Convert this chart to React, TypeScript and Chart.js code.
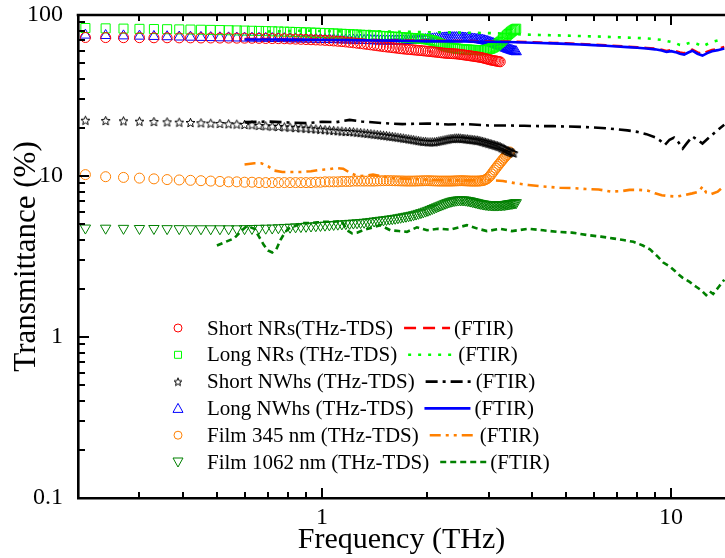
import React, { useEffect, useRef } from 'react';
import { Chart, registerables } from 'chart.js';

Chart.register(...registerables);

// ---------- THz-TDS data (shared frequency grid, THz) ----------
const tdsFreq = [
  0.21, 0.24, 0.27, 0.30, 0.33, 0.36, 0.39, 0.42, 0.45, 0.48,
  0.51, 0.54, 0.57, 0.60, 0.63, 0.66, 0.69, 0.72, 0.75, 0.78,
  0.81, 0.84, 0.87, 0.90, 0.93, 0.96, 0.99, 1.02, 1.05, 1.08,
  1.11, 1.14, 1.17, 1.20, 1.23, 1.26, 1.29, 1.32, 1.35, 1.38,
  1.41, 1.44, 1.47, 1.50, 1.53, 1.56, 1.59, 1.62, 1.65, 1.68,
  1.71, 1.74, 1.77, 1.80, 1.83, 1.86, 1.89, 1.92, 1.95, 1.98,
  2.01, 2.04, 2.07, 2.10, 2.13, 2.16, 2.19, 2.22, 2.25, 2.28,
  2.31, 2.34, 2.37, 2.40, 2.43, 2.46, 2.49, 2.52, 2.55, 2.58,
  2.61, 2.64, 2.67, 2.70, 2.73, 2.76, 2.79, 2.82, 2.85, 2.88,
  2.91, 2.94, 2.97, 3.00, 3.03, 3.06, 3.09, 3.12, 3.15, 3.18,
  3.21, 3.24, 3.27, 3.30, 3.33, 3.36, 3.39, 3.42, 3.45, 3.48,
  3.51, 3.54, 3.57, 3.60,
];

const shortNRsTDS = [
  72.5, 72.4, 72.3, 72.3, 72.2, 72.2, 72.1, 72.1, 72.0, 72.0,
  71.9, 71.9, 71.8, 71.8, 71.7, 71.6, 71.5, 71.4, 71.3, 71.2,
  71.0, 70.8, 70.6, 70.4, 70.2, 70.0, 69.8, 69.6, 69.3, 69.0,
  68.7, 68.4, 68.0, 67.6, 67.2, 66.8, 66.4, 66.0, 65.6, 65.2,
  64.8, 64.4, 64.0, 63.6, 63.3, 63.0, 62.7, 62.4, 62.1, 61.8,
  61.5, 61.3, 61.1, 60.9, 60.7, 60.5, 60.3, 60.1, 59.9, 59.7,
  59.5, 59.3, 59.1, 58.9, 58.7, 58.5, 58.3, 58.1, 57.9, 57.8,
  57.7, 57.6, 57.5, 57.4, 57.3, 57.1, 56.9, 56.7, 56.5, 56.3,
  56.1, 55.9, 55.7, 55.5, 55.3, 55.1, 54.9, 54.7, 54.5, 54.2,
  53.9, 53.6, 53.3, 53.0, 52.7, 52.4, 52.2, 52.0, 51.8, 51.6,
  51.4, 51.2,
];

const longNRsTDS = [
  83.0, 82.6, 82.3, 82.0, 81.8, 81.6, 81.4, 81.2, 81.0, 80.8,
  80.6, 80.4, 80.2, 80.0, 79.8, 79.6, 79.4, 79.2, 79.0, 78.8,
  78.6, 78.4, 78.2, 78.0, 77.8, 77.6, 77.4, 77.2, 77.0, 76.8,
  76.6, 76.4, 76.2, 76.0, 75.8, 75.6, 75.4, 75.2, 75.0, 74.8,
  74.6, 74.4, 74.2, 74.0, 73.8, 73.6, 73.4, 73.2, 73.0, 72.8,
  72.6, 72.4, 72.2, 72.0, 71.8, 71.6, 71.4, 71.2, 71.0, 70.7,
  70.4, 70.0, 69.4, 68.6, 67.7, 66.8, 65.9, 65.0, 64.2, 63.6,
  63.1, 62.7, 62.4, 62.1, 61.9, 61.7, 61.5, 61.3, 61.2, 61.1,
  61.0, 60.9, 60.8, 60.7, 60.6, 60.6, 60.5, 60.5, 60.5, 60.5,
  60.6, 60.7, 60.9, 61.2, 61.6, 62.1, 62.7, 63.5, 64.5, 65.6,
  66.8, 68.0, 69.3, 70.6, 72.0, 73.4, 74.8, 76.2, 77.5, 78.7,
  79.8, 80.8, 81.6, 82.2,
];

const shortNWhsTDS = [
  22.2, 22.1, 22.0, 21.9, 21.8, 21.7, 21.6, 21.5, 21.4, 21.3,
  21.2, 21.1, 21.0, 20.9, 20.8, 20.6, 20.5, 20.4, 20.3, 20.2,
  20.1, 20.0, 19.9, 19.8, 19.7, 19.6, 19.5, 19.4, 19.3, 19.2,
  19.1, 19.0, 18.9, 18.9, 18.8, 18.7, 18.6, 18.5, 18.4, 18.3,
  18.2, 18.1, 18.0, 17.9, 17.8, 17.7, 17.6, 17.5, 17.4, 17.3,
  17.2, 17.1, 17.0, 16.9, 16.8, 16.7, 16.6, 16.5, 16.4, 16.4,
  16.3, 16.3, 16.3, 16.3, 16.4, 16.5, 16.6, 16.7, 16.8, 16.9,
  17.0, 17.1, 17.1, 17.2, 17.2, 17.2, 17.2, 17.1, 17.1, 17.0,
  17.0, 16.9, 16.9, 16.8, 16.8, 16.7, 16.7, 16.6, 16.5, 16.4,
  16.3, 16.2, 16.1, 16.0, 15.9, 15.8, 15.7, 15.6, 15.5, 15.4,
  15.3, 15.2, 15.0, 14.9, 14.7, 14.6, 14.4, 14.3, 14.2, 14.1,
  14.0, 13.9,
];

const longNWhsTDS = [
  75.0, 74.6, 74.2, 73.9, 73.6, 73.3, 73.0, 72.8, 72.6, 72.4,
  72.2, 72.1, 72.0, 71.9, 71.8, 71.7, 71.6, 71.5, 71.4, 71.3,
  71.2, 71.1, 71.0, 70.9, 70.8, 70.7, 70.6, 70.5, 70.4, 70.3,
  70.2, 70.1, 70.0, 69.9, 69.8, 69.7, 69.6, 69.5, 69.4, 69.3,
  69.2, 69.1, 69.0, 69.0, 68.9, 68.9, 68.9, 68.9, 69.0, 69.0,
  69.1, 69.2, 69.3, 69.4, 69.5, 69.6, 69.8, 70.0, 70.2, 70.4,
  70.6, 70.8, 71.0, 71.2, 71.4, 71.6, 71.8, 72.0, 72.1, 72.2,
  72.3, 72.4, 72.4, 72.4, 72.4, 72.3, 72.2, 72.1, 72.0, 71.8,
  71.6, 71.4, 71.2, 71.0, 70.8, 70.6, 70.4, 70.2, 70.0, 69.7,
  69.4, 69.0, 68.6, 68.1, 67.6, 67.1, 66.6, 66.1, 65.6, 65.1,
  64.6, 64.1, 63.6, 63.1, 62.6, 62.1, 61.6, 61.2, 60.8, 60.4,
  60.0, 59.7, 59.4, 59.1,
];

const film345TDS = [
  10.2, 9.9, 9.8, 9.7, 9.6, 9.5, 9.45, 9.4, 9.35, 9.3,
  9.25, 9.2, 9.2, 9.15, 9.15, 9.1, 9.1, 9.1, 9.1, 9.1,
  9.1, 9.1, 9.1, 9.1, 9.1, 9.15, 9.15, 9.2, 9.2, 9.2,
  9.2, 9.25, 9.25, 9.25, 9.3, 9.3, 9.3, 9.3, 9.3, 9.3,
  9.3, 9.32, 9.34, 9.35, 9.36, 9.36, 9.35, 9.34, 9.33, 9.32,
  9.31, 9.3, 9.3, 9.3, 9.3, 9.31, 9.32, 9.33, 9.34, 9.35,
  9.35, 9.34, 9.33, 9.32, 9.31, 9.3, 9.3, 9.3, 9.3, 9.3,
  9.3, 9.3, 9.31, 9.32, 9.33, 9.34, 9.35, 9.35, 9.34, 9.33,
  9.32, 9.31, 9.3, 9.3, 9.3, 9.3, 9.3, 9.31, 9.33, 9.36,
  9.4, 9.5, 9.6, 9.8, 10.0, 10.3, 10.6, 10.9, 11.2, 11.5,
  11.8, 12.1, 12.4, 12.7, 13.0, 13.3, 13.6, 13.9, 14.1,
];

const film1062TDS = [
  4.75, 4.74, 4.73, 4.72, 4.72, 4.71, 4.71, 4.70, 4.70, 4.70,
  4.70, 4.70, 4.70, 4.71, 4.72, 4.73, 4.74, 4.75, 4.77, 4.79,
  4.81, 4.83, 4.85, 4.87, 4.89, 4.91, 4.93, 4.95, 4.97, 5.00,
  5.02, 5.04, 5.06, 5.08, 5.10, 5.12, 5.14, 5.16, 5.19, 5.22,
  5.25, 5.28, 5.31, 5.34, 5.37, 5.40, 5.43, 5.46, 5.50, 5.54,
  5.58, 5.62, 5.66, 5.70, 5.75, 5.80, 5.86, 5.92, 5.98, 6.05,
  6.12, 6.20, 6.28, 6.36, 6.44, 6.52, 6.60, 6.68, 6.76, 6.83,
  6.90, 6.96, 7.01, 7.05, 7.08, 7.10, 7.11, 7.11, 7.10, 7.08,
  7.05, 7.02, 6.98, 6.94, 6.90, 6.86, 6.82, 6.78, 6.75, 6.72,
  6.69, 6.67, 6.65, 6.63, 6.62, 6.61, 6.60, 6.60, 6.60, 6.60,
  6.61, 6.62, 6.63, 6.64, 6.65, 6.67, 6.69, 6.71, 6.73, 6.75,
  6.77, 6.79, 6.81, 6.83,
];

// ---------- FTIR data ----------
const ftirNWFreq = [
  0.6, 0.7, 0.8, 0.9, 1.0, 1.2, 1.4, 1.6, 1.8, 2.0,
  2.3, 2.6, 3.0, 3.4, 3.8, 4.2, 4.6, 5.0, 5.5, 6.0,
  6.5, 7.0, 7.5, 8.0, 8.5, 9.0, 9.4, 9.7, 10.0, 10.3,
  10.6, 10.9, 11.2, 11.5, 11.9, 12.3, 12.7, 13.1, 13.6, 14.2,
];
const shortNRsFTIR = [
  71.0, 70.8, 70.6, 70.4, 70.2, 70.0, 69.8, 69.6, 69.4, 69.2,
  69.0, 68.8, 68.6, 68.3, 67.9, 67.4, 67.0, 66.6, 66.0, 65.4,
  64.8, 64.2, 63.6, 63.0, 62.4, 61.8, 60.9, 59.8, 60.4, 59.6,
  58.4, 57.8, 59.4, 60.9, 58.6, 57.2, 59.2, 60.6, 61.6, 63.2,
];
const longNWhsFTIR = [
  70.5, 70.5, 70.3, 70.2, 70.0, 69.8, 69.5, 69.3, 69.0, 68.8,
  68.6, 68.4, 68.2, 67.9, 67.5, 67.0, 66.6, 66.2, 65.6, 65.0,
  64.4, 63.8, 63.2, 62.6, 62.0, 61.2, 60.2, 59.0, 59.6, 58.8,
  57.5, 56.8, 58.5, 60.0, 57.5, 56.0, 58.0, 59.5, 60.5, 62.0,
];

const longNRsFTIRFreq = [
  0.7, 0.8, 0.9, 1.0, 1.2, 1.4, 1.6, 1.8, 2.0, 2.3,
  2.6, 3.0, 3.4, 3.8, 4.2, 4.6, 5.0, 5.5, 6.0, 6.5,
  7.0, 7.5, 8.0, 8.5, 9.0, 9.4, 9.7, 10.0, 10.3, 10.6,
  10.9, 11.2, 11.5, 11.9, 12.3, 12.7, 13.1, 13.6, 14.2,
];
const longNRsFTIR = [
  79.0, 79.5, 80.0, 79.5, 79.0, 79.5, 78.8, 78.5, 78.2, 78.0,
  77.6, 77.2, 76.5, 75.6, 75.2, 74.8, 74.5, 74.0, 73.6, 73.2,
  72.8, 72.4, 72.0, 71.5, 70.8, 70.0, 69.0, 68.0, 66.8, 65.2,
  65.0, 66.8, 67.5, 66.0, 63.8, 66.0, 68.0, 69.5, 70.8,
];

const shortNWhsFTIRFreq = [
  0.6, 0.7, 0.8, 0.9, 1.0, 1.1, 1.2, 1.3, 1.5, 1.7,
  2.0, 2.3, 2.6, 3.0, 3.4, 3.8, 4.2, 4.6, 5.0, 5.5,
  6.0, 6.5, 7.0, 7.5, 8.0, 8.5, 9.0, 9.3, 9.6, 9.9,
  10.2, 10.5, 10.8, 11.1, 11.5, 11.9, 12.3, 12.8, 13.3, 13.8,
  14.2,
];
const shortNWhsFTIR = [
  21.6, 21.8, 21.5, 21.3, 21.7, 21.6, 22.3, 21.8, 21.3, 21.0,
  21.2, 20.9, 21.0, 20.6, 20.6, 20.5, 20.4, 20.4, 20.3, 20.2,
  20.0, 19.8, 19.5, 19.2, 18.8, 18.2, 17.4, 16.6, 15.6, 16.8,
  17.3, 16.2, 14.8, 16.0, 17.6, 16.8, 15.9, 17.2, 18.5, 19.8,
  20.8,
];

const film345FTIRFreq = [
  0.60, 0.64, 0.67, 0.70, 0.73, 0.77, 0.82, 0.87, 0.93, 0.98,
  1.04, 1.10, 1.15, 1.20, 1.25, 1.30, 1.40, 1.50, 1.60, 1.80,
  2.0, 2.3, 2.6, 3.0, 3.3, 3.6, 3.9, 4.3, 4.8, 5.3,
  5.7, 6.2, 6.7, 7.2, 7.6, 8.1, 8.6, 9.0, 9.4, 9.9,
  10.4, 10.9, 11.5, 12.0, 12.3, 12.6, 13.0, 13.6, 14.2,
];
const film345FTIR = [
  11.8, 12.0, 12.0, 11.5, 10.8, 10.6, 10.6, 10.6, 10.7, 10.9,
  11.0, 11.2, 11.1, 10.5, 10.1, 10.0, 10.2, 9.9, 9.7, 9.6,
  9.5, 9.4, 9.4, 9.45, 9.3, 9.0, 8.8, 8.6, 8.45, 8.4,
  8.3, 8.25, 8.0, 8.05, 8.2, 8.2, 8.1, 7.8, 7.6, 7.5,
  7.45, 7.6, 7.8, 8.0, 8.6, 7.9, 7.7, 8.0, 8.7,
];

const film1062FTIRFreq = [
  0.50, 0.53, 0.56, 0.59, 0.61, 0.64, 0.66, 0.68, 0.70, 0.72,
  0.74, 0.76, 0.78, 0.80, 0.84, 0.87, 0.92, 0.97, 1.02, 1.08,
  1.14, 1.18, 1.22, 1.26, 1.31, 1.40, 1.47, 1.57, 1.66, 1.75,
  1.87, 2.0, 2.15, 2.33, 2.6, 2.8, 2.97, 3.24, 3.5, 3.9,
  4.3, 4.7, 5.2, 5.75, 6.3, 6.8, 7.3, 7.8, 8.3, 8.7,
  9.1, 9.5, 9.9, 10.2, 10.5, 10.8, 11.3, 11.8, 12.2, 12.6,
  12.9, 13.2, 13.7, 14.2,
];
const film1062FTIR = [
  3.7, 3.9, 4.1, 4.6, 4.9, 4.7, 4.2, 3.75, 3.45, 3.35,
  3.5, 4.0, 4.4, 4.7, 4.9, 5.1, 5.1, 5.15, 5.2, 5.2,
  5.25, 4.6, 4.4, 4.45, 4.6, 4.8, 4.95, 4.6, 4.55, 4.5,
  4.8, 4.6, 4.7, 4.65, 4.95, 4.7, 4.55, 4.7, 4.55, 4.7,
  4.6, 4.5, 4.45, 4.3, 4.2, 4.1, 4.0, 3.9, 3.7, 3.5,
  3.2, 2.9, 2.75, 2.6, 2.45, 2.33, 2.2, 2.05, 1.95, 1.82,
  1.92, 1.85, 2.05, 2.27,
];

const xMin = 0.2;
const xMax = 14.27;
const yMin = 0.1;
const yMax = 100;

const legendLabels = [
  'Short NRs(THz-TDS)',
  'Long NRs (THz-TDS)',
  'Short NWhs (THz-TDS)',
  'Long NWhs (THz-TDS)',
  'Film 345 nm (THz-TDS)',
  'Film 1062 nm (THz-TDS)',
];

const RED = '#ff0000';
const LIME = '#00ff00';
const BLACK = '#000000';
const BLUE = '#0000ff';
const ORANGE = '#ff8000';
const DGREEN = '#008000';
const SERIF = '"Liberation Serif", "Times New Roman", serif';

function pairs(xs: number[], ys: number[]) {
  return ys.map((y, i) => ({ x: xs[i], y }));
}

function makeStar(size: number, color: string) {
  const c = document.createElement('canvas');
  c.width = size;
  c.height = size;
  const g = c.getContext('2d')!;
  const cx = size / 2;
  const cy = size / 2 + 0.5;
  const R = size / 2 - 0.8;
  const r = R * 0.45;
  g.beginPath();
  for (let k = 0; k < 10; k++) {
    const ang = -Math.PI / 2 + (k * Math.PI) / 5;
    const rad = k % 2 === 0 ? R : r;
    const px = cx + rad * Math.cos(ang);
    const py = cy + rad * Math.sin(ang);
    if (k === 0) g.moveTo(px, py);
    else g.lineTo(px, py);
  }
  g.closePath();
  g.strokeStyle = color;
  g.lineWidth = 1;
  g.stroke();
  return c;
}

function niceMantissa(v: number) {
  const e = Math.floor(Math.log10(v) + 1e-9);
  const m = v / Math.pow(10, e);
  const rm = Math.round(m);
  return Math.abs(m - rm) < 1e-6 ? rm : 0;
}

function drawMarker(ctx: CanvasRenderingContext2D, kind: string, color: string, x: number, y: number, star: HTMLCanvasElement) {
  ctx.save();
  ctx.strokeStyle = color;
  ctx.lineWidth = 1;
  ctx.beginPath();
  if (kind === 'circle') {
    ctx.arc(x, y, 4, 0, Math.PI * 2);
    ctx.stroke();
  } else if (kind === 'rect') {
    ctx.rect(x - 3.5, y - 3.5, 7, 7);
    ctx.stroke();
  } else if (kind === 'star') {
    ctx.drawImage(star, x - star.width / 2, y - star.height / 2);
  } else if (kind === 'tri') {
    ctx.moveTo(x, y - 5);
    ctx.lineTo(x + 5, y + 4);
    ctx.lineTo(x - 5, y + 4);
    ctx.closePath();
    ctx.stroke();
  } else if (kind === 'tridown') {
    ctx.moveTo(x, y + 5);
    ctx.lineTo(x + 5, y - 4);
    ctx.lineTo(x - 5, y - 4);
    ctx.closePath();
    ctx.stroke();
  }
  ctx.restore();
}

export default function App() {
  const ref = useRef<HTMLCanvasElement | null>(null);

  useEffect(() => {
    if (!ref.current) return;
    const star = makeStar(11, BLACK);
    const legendStar = makeStar(10, BLACK);

    const tds = (label: string, ys: number[], color: string, style: any, radius: number, rotation = 0) => ({
      label,
      data: pairs(tdsFreq, ys),
      showLine: false,
      pointStyle: style,
      pointRadius: radius,
      pointRotation: rotation,
      pointBorderWidth: 1,
      borderColor: color,
      backgroundColor: 'rgba(0,0,0,0)',
      pointBackgroundColor: 'rgba(0,0,0,0)',
      pointBorderColor: color,
    });
    const ftir = (label: string, xs: number[], ys: number[], color: string, dash: number[]) => ({
      label,
      data: pairs(xs, ys),
      showLine: true,
      pointRadius: 0,
      borderColor: color,
      backgroundColor: color,
      borderWidth: 2.6,
      borderDash: dash,
      borderCapStyle: 'butt',
      tension: 0,
    });

    const legendRows = [
      { marker: 'circle', mColor: RED, lColor: RED, dash: [12, 7] },
      { marker: 'rect', mColor: LIME, lColor: LIME, dash: [3, 7] },
      { marker: 'star', mColor: BLACK, lColor: BLACK, dash: [12, 5, 3, 5] },
      { marker: 'tri', mColor: BLUE, lColor: BLUE, dash: [] },
      { marker: 'circle', mColor: ORANGE, lColor: ORANGE, dash: [11, 5, 3, 5, 3, 5] },
      { marker: 'tridown', mColor: DGREEN, lColor: DGREEN, dash: [6, 4] },
    ];

    const framePlugin = {
      id: 'frame',
      afterDatasetsDraw(chart: any) {
        const { ctx, chartArea: a } = chart;
        const xs = chart.scales.x;
        const ys = chart.scales.y;
        ctx.save();
        ctx.strokeStyle = '#000';
        ctx.lineWidth = 2;
        xs.ticks.forEach((t: any) => {
          const v = t.value;
          if (v <= xMin * 1.001 || v >= xMax * 0.999) return;
          const m = niceMantissa(v);
          if (!m) return;
          const len = m === 1 ? 10 : 6;
          const px = Math.round(xs.getPixelForValue(v));
          ctx.beginPath();
          ctx.moveTo(px, a.bottom);
          ctx.lineTo(px, a.bottom - len);
          ctx.moveTo(px, a.top);
          ctx.lineTo(px, a.top + len);
          ctx.stroke();
        });
        ys.ticks.forEach((t: any) => {
          const v = t.value;
          if (v <= yMin * 1.001 || v >= yMax * 0.999) return;
          const m = niceMantissa(v);
          if (!m) return;
          const len = m === 1 ? 11 : 7;
          const py = Math.round(ys.getPixelForValue(v));
          ctx.beginPath();
          ctx.moveTo(a.left, py);
          ctx.lineTo(a.left + len, py);
          ctx.stroke();
        });
        ctx.lineWidth = 2.6;
        ctx.beginPath();
        ctx.moveTo(a.left - 1.3, a.top);
        ctx.lineTo(a.right, a.top);
        ctx.stroke();
        ctx.restore();

        // legend
        ctx.save();
        ctx.font = `21px ${SERIF}`;
        ctx.textBaseline = 'middle';
        ctx.fillStyle = '#000';
        const x0 = 178;
        const y0 = 328;
        const dy = 26.8;
        legendLabels.forEach((lab, i) => {
          const r = legendRows[i];
          const y = y0 + i * dy;
          drawMarker(ctx, r.marker, r.mColor, x0, y, legendStar);
          ctx.fillStyle = '#000';
          ctx.fillText(lab, 207, y + 1);
          const w = ctx.measureText(lab).width;
          const ls = 207 + w + 11;
          const le = ls + 46;
          ctx.save();
          ctx.strokeStyle = r.lColor;
          ctx.lineWidth = 2.6;
          ctx.setLineDash(r.dash);
          ctx.beginPath();
          ctx.moveTo(ls, y);
          ctx.lineTo(le, y);
          ctx.stroke();
          ctx.restore();
          ctx.fillText('(FTIR)', le + 4, y + 1);
        });
        ctx.restore();
      },
    };

    const hiddenGrid = (len: number) => ({
      display: true,
      drawOnChartArea: false,
      drawTicks: true,
      tickLength: len,
      color: 'rgba(0,0,0,0)',
    });

    const chart = new Chart(ref.current, {
      type: 'scatter',
      data: {
        datasets: [
          ftir('Long NWhs (FTIR)', ftirNWFreq, longNWhsFTIR, BLUE, []),
          ftir('Short NRs (FTIR)', ftirNWFreq, shortNRsFTIR, RED, [10, 6]),
          ftir('Long NRs (FTIR)', longNRsFTIRFreq, longNRsFTIR, LIME, [3, 7]),
          ftir('Short NWhs (FTIR)', shortNWhsFTIRFreq, shortNWhsFTIR, BLACK, [12, 5, 3, 5]),
          ftir('Film 345 nm (FTIR)', film345FTIRFreq, film345FTIR, ORANGE, [11, 5, 3, 5, 3, 5]),
          ftir('Film 1062 nm (FTIR)', film1062FTIRFreq, film1062FTIR, DGREEN, [6, 4]),
          tds('Short NRs (THz-TDS)', shortNRsTDS, RED, 'circle', 5),
          tds('Long NRs (THz-TDS)', longNRsTDS, LIME, 'rect', 6.4),
          tds('Short NWhs (THz-TDS)', shortNWhsTDS, BLACK, star, 5),
          tds('Long NWhs (THz-TDS)', longNWhsTDS, BLUE, 'triangle', 6),
          tds('Film 345 nm (THz-TDS)', film345TDS, ORANGE, 'circle', 5),
          tds('Film 1062 nm (THz-TDS)', film1062TDS, DGREEN, 'triangle', 6, 180),
        ] as any,
      },
      options: {
        animation: false,
        responsive: false,
        devicePixelRatio: 1,
        layout: { autoPadding: false, padding: { top: 15, left: 0, right: 0, bottom: 0 } },
        plugins: {
          legend: { display: false },
          tooltip: { enabled: false },
        },
        scales: {
          x: {
            type: 'logarithmic',
            min: xMin,
            max: xMax,
            grid: hiddenGrid(5),
            border: { display: true, color: '#000', width: 2.6 },
            ticks: {
              autoSkip: false,
              maxRotation: 0,
              padding: 0,
              color: '#000',
              font: { family: SERIF, size: 24 },
              callback: (v: any) => {
                const l = Math.log10(Number(v));
                return Math.abs(l - Math.round(l)) < 1e-9 ? String(Math.round(Number(v))) : '';
              },
            },
            title: {
              display: true,
              text: 'Frequency (THz)',
              color: '#000',
              font: { family: SERIF, size: 30 },
              padding: { top: 0, bottom: 0 },
            },
            afterFit: (s: any) => {
              s.height = 60;
            },
          },
          y: {
            type: 'logarithmic',
            min: yMin,
            max: yMax,
            grid: hiddenGrid(15),
            border: { display: true, color: '#000', width: 2.6 },
            ticks: {
              autoSkip: false,
              padding: 0,
              color: '#000',
              font: { family: SERIF, size: 24 },
              callback: (v: any) => {
                const n = Number(v);
                const l = Math.log10(n);
                if (Math.abs(l - Math.round(l)) > 1e-9) return '';
                return n >= 1 ? String(Math.round(n)) : String(Math.round(n * 10) / 10);
              },
            },
            title: {
              display: true,
              text: 'Transmittance (%)',
              color: '#000',
              font: { family: SERIF, size: 31 },
              padding: { top: 8, bottom: 0 },
            },
            afterFit: (s: any) => {
              s.width = 78;
            },
          },
        },
      } as any,
      plugins: [framePlugin],
    });
    return () => chart.destroy();
  }, []);

  return (
    <div style={{ position: 'fixed', left: 0, top: 0, width: 725, height: 558, background: '#fff' }}>
      <canvas ref={ref} width={725} height={558} style={{ display: 'block' }} />
    </div>
  );
}
